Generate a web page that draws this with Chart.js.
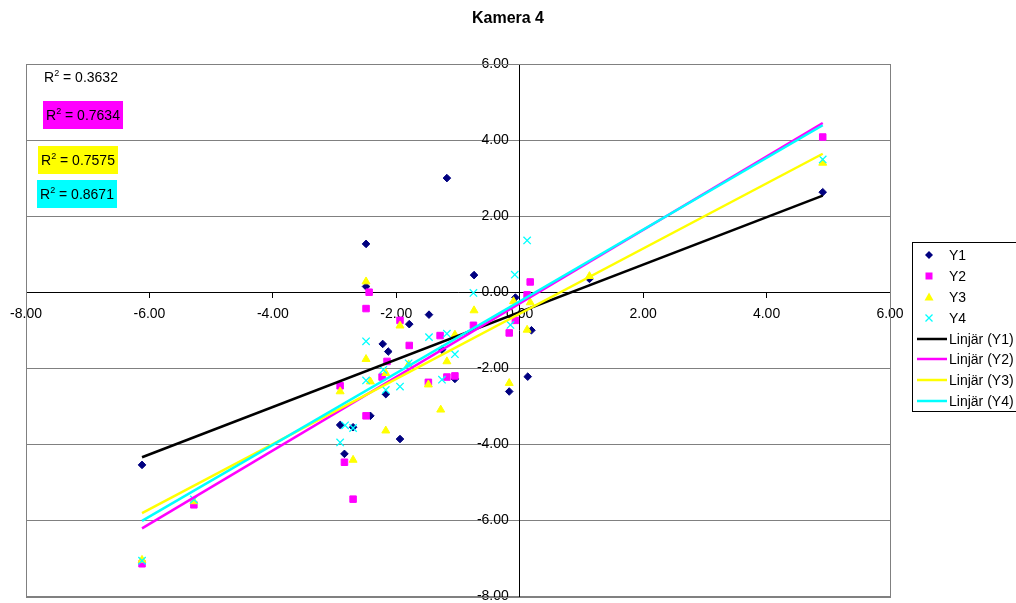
<!DOCTYPE html>
<html>
<head>
<meta charset="utf-8">
<script src="https://cdn.jsdelivr.net/npm/chart.js@4.4.1/dist/chart.umd.min.js"></script>
<style>
  html, body { margin: 0; padding: 0; background: #fff; }
  #wrap { position: relative; width: 1016px; height: 603px; overflow: hidden; font-family: Arial, "Liberation Sans", sans-serif; color: #000; }
  #c { position: absolute; left: 0; top: 0; }
  .title { position: absolute; left: 0; top: 9px; width: 1016px; text-align: center; font-weight: bold; font-size: 16px; }
  .r2 { position: absolute; font-size: 14px; height: 28px; line-height: 28px; padding: 0 3px; white-space: nowrap; }
  .r2 sup { font-size: 9px; vertical-align: 0; position: relative; top: -6px; }
  #legend { position: absolute; left: 912px; top: 242px; width: 130px; height: 170px; border: 1px solid #000; box-sizing: border-box; font-size: 14px; }
  .item { position: absolute; left: 0; height: 20px; line-height: 20px; white-space: nowrap; }
  .item svg { position: absolute; left: 3px; top: 0; }
  .item span { position: absolute; left: 36px; top: 0; }
</style>
</head>
<body>
<div id="wrap">
  <canvas id="c" width="1016" height="603"></canvas>
  <div class="title">Kamera 4</div>
  <div id="r2box"></div>
  <div id="legend"></div>
</div>
<script>
// axis range
const axisMin = -8;
const axisMax = 6;
const axisStep = 2;

// Y1 .. Y4 measured points
const y1X = [-6.12, 4.91, 1.13, -1.18, -2.49, -0.74, -2.49, -1.47, -1.79, -0.07, 0.19, -2.22, -2.13, -1.26, -1.05, -0.17, 0.13, -2.17, -2.42, -1.94, -2.91, -2.70, -2.84];
const y1Y = [-4.54, 2.63, 0.35, 3.00, 1.27, 0.45, 0.15, -0.59, -0.84, -0.14, -1.00, -1.36, -1.56, -1.51, -2.28, -2.61, -2.22, -2.68, -3.25, -3.86, -3.49, -3.55, -4.25];

const y2X = [-6.12, -5.28, 4.91, 0.17, 0.12, -2.44, -2.49, -1.94, -1.79, -0.75, -0.07, -0.17, -1.29, -2.15, -2.91, -2.23, -1.48, -1.18, -1.05, -2.49, -2.84, -2.70];
const y2Y = [-7.14, -5.59, 4.08, 0.27, -0.07, 0.00, -0.43, -0.74, -1.40, -0.87, -0.74, -1.07, -1.14, -1.82, -2.46, -2.23, -2.37, -2.23, -2.20, -3.25, -4.47, -5.44];

const y3X = [-6.12, -5.28, 4.91, 1.13, -2.49, -0.74, -1.94, -0.10, 0.17, 0.12, -1.05, -2.49, -1.18, -1.80, -2.91, -2.42, -2.17, -1.48, -0.17, -1.28, -2.17, -2.70];
const y3Y = [-7.04, -5.50, 3.40, 0.42, 0.28, -0.48, -0.88, -0.24, -0.27, -0.99, -1.12, -1.76, -1.82, -1.90, -2.61, -2.35, -2.13, -2.43, -2.39, -3.09, -3.64, -4.41];

const y4X = [-6.12, -5.28, 4.91, 0.12, -0.08, -0.75, -0.15, -1.18, -2.49, -1.47, -1.05, -2.21, -1.80, -2.49, -2.17, -1.94, -1.26, -2.83, -2.70, -2.91];
const y4Y = [-7.06, -5.45, 3.49, 1.36, 0.46, -0.02, -0.86, -1.09, -1.29, -1.18, -1.63, -2.04, -1.87, -2.32, -2.57, -2.48, -2.30, -3.50, -3.57, -3.95];

// linear trend lines (Linjär), read at both ends
const trendX = [-6.12, 4.91];
const trendY1 = [-4.34, 2.54];
const trendY2 = [-6.21, 4.45];
const trendY3 = [-5.81, 3.64];
const trendY4 = [-6.01, 4.39];

const rSquared = ['0.3632', '0.7634', '0.7575', '0.8671'];

const seriesNames = ['Y1', 'Y2', 'Y3', 'Y4'];
const pointColors = ['#000080', '#FF00FF', '#FFFF00', '#00FFFF'];
const lineColors = ['#000000', '#FF00FF', '#FFFF00', '#00FFFF'];
const pointStyles = ['rectRot', 'rect', 'triangle', 'crossRot'];
const pointRadii = [3.8, 4.6, 4.6, 5.2];

const toPts = (xs, ys) => xs.map((x, i) => ({ x: x, y: ys[i] }));

const pointData = [toPts(y1X, y1Y), toPts(y2X, y2Y), toPts(y3X, y3Y), toPts(y4X, y4Y)];
const trendData = [trendY1, trendY2, trendY3, trendY4].map(ys => toPts(trendX, ys));

const datasets = [];
seriesNames.forEach((name, i) => {
  datasets.push({
    label: name,
    data: pointData[i],
    showLine: false,
    pointStyle: pointStyles[i],
    pointRadius: pointRadii[i],
    pointHoverRadius: pointRadii[i],
    backgroundColor: pointColors[i],
    borderColor: pointColors[i],
    pointBorderWidth: i === 3 ? 1.3 : 1,
    order: 8 - i
  });
});
seriesNames.forEach((name, i) => {
  datasets.push({
    label: 'Linjär (' + name + ')',
    data: trendData[i],
    showLine: true,
    pointRadius: 0,
    borderColor: lineColors[i],
    borderWidth: 2.5,
    fill: false,
    order: 4 - i
  });
});

const plotBorder = {
  id: 'plotBorder',
  beforeDatasetsDraw(chart) {
    const { ctx, chartArea } = chart;
    ctx.save();
    ctx.strokeStyle = '#808080';
    ctx.lineWidth = 1;
    ctx.strokeRect(Math.round(chartArea.left) + 0.5, Math.round(chartArea.top) + 0.5,
      Math.round(chartArea.right - chartArea.left), Math.round(chartArea.bottom - chartArea.top));
    ctx.restore();
  }
};

const tickFont = { family: 'Arial, "Liberation Sans", sans-serif', size: 14 };

new Chart(document.getElementById('c'), {
  type: 'scatter',
  data: { datasets: datasets },
  options: {
    responsive: false,
    animation: false,
    layout: { padding: { left: 26, right: 126, top: 64, bottom: 6 } },
    plugins: {
      legend: { display: false },
      tooltip: { enabled: false },
      title: { display: false }
    },
    scales: {
      x: {
        type: 'linear',
        min: axisMin,
        max: axisMax,
        position: { y: 0 },
        border: { color: '#000', width: 1 },
        grid: { drawOnChartArea: false, drawTicks: true, tickLength: 5, color: '#000' },
        ticks: {
          stepSize: axisStep,
          color: '#000',
          font: tickFont,
          padding: 9,
          maxRotation: 0,
          callback: v => v.toFixed(2)
        }
      },
      y: {
        type: 'linear',
        min: axisMin,
        max: axisMax,
        position: { x: 0 },
        border: { color: '#000', width: 1 },
        grid: { color: '#808080', drawTicks: true, tickLength: 5 },
        ticks: {
          stepSize: axisStep,
          color: '#000',
          font: tickFont,
          // labels sit right against a centred axis, keep a gap like Excel does
          callback: v => v.toFixed(2) + '\u2002 '
        },
        afterFit(scale) {
          scale.paddingTop = 0;
          scale.paddingBottom = 0;
        }
      }
    }
  },
  plugins: [plotBorder]
});

// R² labels
const r2Pos = [[41, 63, 'transparent'], [43, 101, '#FF00FF'], [38, 146, '#FFFF00'], [37, 180, '#00FFFF']];
const r2box = document.getElementById('r2box');
rSquared.forEach((v, i) => {
  const d = document.createElement('div');
  d.className = 'r2';
  d.style.left = r2Pos[i][0] + 'px';
  d.style.top = r2Pos[i][1] + 'px';
  d.style.background = r2Pos[i][2];
  d.innerHTML = 'R<sup>2</sup> = ' + v;
  r2box.appendChild(d);
});

// legend
const symbolSvg = (style, color) => {
  if (style === 'rectRot') return '<polygon points="13,6 17,10 13,14 9,10" fill="' + color + '"/>';
  if (style === 'rect') return '<rect x="9.5" y="6.5" width="7" height="7" fill="' + color + '"/>';
  if (style === 'triangle') return '<polygon points="13,5.5 17.5,13.5 8.5,13.5" fill="' + color + '"/>';
  return '<path d="M9.5 6.5 L16.5 13.5 M16.5 6.5 L9.5 13.5" stroke="' + color + '" stroke-width="1.3"/>';
};
const legend = document.getElementById('legend');
const rowTops = [2, 22.5, 43.5, 64.5, 85.5, 106, 127, 148];
seriesNames.forEach((name, i) => {
  const d = document.createElement('div');
  d.className = 'item';
  d.style.top = rowTops[i] + 'px';
  d.innerHTML = '<svg width="30" height="20">' + symbolSvg(pointStyles[i], pointColors[i]) + '</svg><span>' + name + '</span>';
  legend.appendChild(d);
});
seriesNames.forEach((name, i) => {
  const d = document.createElement('div');
  d.className = 'item';
  d.style.top = rowTops[i + 4] + 'px';
  d.innerHTML = '<svg width="34" height="20"><line x1="1" y1="10" x2="31" y2="10" stroke="' + lineColors[i] + '" stroke-width="2.5"/></svg><span>Linjär (' + name + ')</span>';
  legend.appendChild(d);
});
</script>
</body>
</html>
